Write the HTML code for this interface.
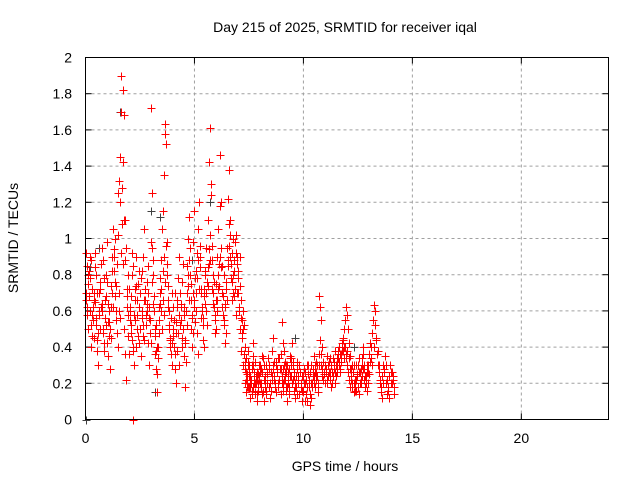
<!DOCTYPE html>
<html><head><meta charset="utf-8"><style>
body{margin:0;background:#fff}
svg text{font-family:"Liberation Sans",sans-serif;font-size:14px;fill:#000}
</style></head><body>
<svg id="chart" width="640" height="480" viewBox="0 0 640 480" xmlns="http://www.w3.org/2000/svg">
<text x="345" y="32" text-anchor="middle">Day 215 of 2025, SRMTID for receiver iqal</text>
<text transform="translate(18,238) rotate(-90)" text-anchor="middle">SRMTID / TECUs</text>
<text x="345" y="471" text-anchor="middle">GPS time / hours</text>
<g id="grid"></g><g id="ticks"></g><g id="dark" shape-rendering="crispEdges"></g><g id="red" shape-rendering="crispEdges"></g>
<rect x="85.5" y="57.5" width="523" height="362" fill="none" stroke="#000" stroke-width="1"/>
</svg>
<script>
const xTicks=[0,5,10,15,20];
const yTicks=[0,0.2,0.4,0.6,0.8,1,1.2,1.4,1.6,1.8,2];
const yTickLabels=["0","0.2","0.4","0.6","0.8","1","1.2","1.4","1.6","1.8","2"];
const sampleStep=0.05;
const segStarts=[0,0.02,2,2.02,4,4.02,6,6.02,8,8.02,10,10.02,12,12.02,0.035,2.035,4.035,6.035,7.3,9.035,11.035];
const seg0=[0.92,0.85,0.75,0.68,0.6,0.88,0.72,0.55,0.45,0.65,0.8,0.7,0.58,0.5,0.62,0.95,0.88,0.78,0.66,0.52,0.42,0.35,0.6,0.74,0.9,1.05,0.82,0.68,0.55,0.48,1.25,1.32,1.45,1.9,1.82,1.68,1.1,0.95,0.72,0.58];
const seg1=[0.7,0.62,0.5,0.82,0.78,0.4,0.58,0.66,0.92,0.52,0.44,0.3,0.7,0.76,0.86,0.6,0.48,0.38,0.8,0.98,0.64,0.54,0.28,0.45,0.7,0.62,0.9,1.0,0.74,0.4,0.6,1.2,1.7,1.08,0.86,0.5,0.36,0.22,0.68,0.8];
const seg2=[0.72,0.6,0.48,0.92,0.85,0.55,0.4,0.66,0.75,0.62,0.5,0.35,0.82,0.9,1.05,0.72,0.6,0.42,0.3,0.55,1.72,0.95,0.8,0.68,0.5,0.38,0.25,0.62,0.78,0.88,1.05,1.15,1.35,1.63,1.52,0.98,0.74,0.6,0.45,0.3];
const seg3=[0.55,0.68,0.8,0.4,0.3,0.72,0.9,0.58,0.46,0.82,0.7,0.6,0.52,0.44,0.66,0.58,0.76,0.85,0.62,0.48,0.98,1.25,0.64,0.36,0.28,0.15,0.4,0.55,0.7,0.6,0.5,0.82,0.9,1.58,0.86,0.66,0.52,0.4,0.56,0.7];
const seg4=[0.5,0.4,0.28,0.2,0.62,0.78,0.9,0.7,0.55,0.45,0.35,0.18,0.6,0.85,1.0,1.12,0.95,0.75,0.58,0.48,0.66,0.82,0.92,1.05,1.2,0.9,0.72,0.6,0.52,0.4,0.8,0.95,1.1,1.42,1.61,1.3,0.88,0.7,0.62,0.55];
const seg5=[0.62,0.55,0.7,0.48,0.38,0.3,0.52,0.64,0.76,0.86,0.58,0.42,0.32,0.7,0.8,0.66,0.5,0.4,0.98,1.15,0.78,0.6,0.48,0.36,0.72,0.84,0.56,0.44,0.68,0.82,0.6,0.52,0.74,0.86,1.02,1.24,0.96,0.8,0.48,0.66];
const seg6=[0.75,0.9,1.05,1.46,1.2,0.85,0.68,0.55,0.42,0.72,0.95,1.22,1.38,1.1,0.92,0.8,0.68,0.98,1.02,0.9,0.78,0.6,0.5,0.38,0.45,0.3,0.2,0.15,0.25,0.32,0.18,0.12,0.22,0.28,0.35,0.2,0.15,0.1,0.25,0.3];
const seg7=[0.6,0.72,0.86,1.18,0.95,0.7,0.58,0.8,0.62,0.48,0.85,1.08,0.9,0.78,0.66,1.0,0.88,0.72,0.58,0.7,0.82,0.9,0.66,0.55,0.5,0.36,0.28,0.22,0.18,0.38,0.26,0.2,0.3,0.42,0.24,0.14,0.2,0.26,0.18,0.22];
const seg8=[0.2,0.28,0.35,0.15,0.1,0.22,0.3,0.25,0.18,0.12,0.26,0.38,0.45,0.32,0.2,0.15,0.28,0.34,0.22,0.14,0.54,0.42,0.38,0.25,0.18,0.1,0.2,0.28,0.35,0.3,0.22,0.16,0.12,0.24,0.32,0.2,0.14,0.26,0.18,0.1];
const seg9=[0.26,0.18,0.14,0.3,0.24,0.16,0.2,0.34,0.28,0.2,0.16,0.22,0.3,0.24,0.32,0.26,0.18,0.22,0.28,0.36,0.24,0.2,0.3,0.32,0.26,0.22,0.14,0.34,0.24,0.2,0.3,0.26,0.2,0.18,0.28,0.24,0.3,0.2,0.24,0.16];
const seg10=[0.15,0.1,0.22,0.3,0.25,0.18,0.08,0.12,0.2,0.28,0.35,0.3,0.22,0.15,0.68,0.62,0.55,0.4,0.32,0.25,0.2,0.28,0.35,0.3,0.22,0.18,0.26,0.34,0.28,0.2,0.24,0.3,0.36,0.32,0.26,0.4,0.45,0.5,0.55,0.62];
const seg11=[0.2,0.26,0.14,0.18,0.3,0.22,0.14,0.2,0.28,0.24,0.18,0.26,0.3,0.2,0.36,0.44,0.3,0.24,0.22,0.3,0.26,0.2,0.24,0.32,0.26,0.3,0.2,0.24,0.3,0.26,0.34,0.38,0.3,0.28,0.36,0.42,0.38,0.34,0.4,0.36];
const seg12=[0.58,0.5,0.42,0.35,0.28,0.2,0.15,0.22,0.3,0.25,0.18,0.14,0.2,0.28,0.34,0.4,0.3,0.22,0.16,0.2,0.25,0.32,0.4,0.48,0.55,0.63,0.6,0.45,0.38,0.3,0.22,0.15,0.12,0.2,0.28,0.35,0.3,0.22,0.16,0.12,0.2,0.26,0.22,0.18];
const seg13=[0.38,0.34,0.28,0.22,0.18,0.26,0.3,0.2,0.16,0.24,0.3,0.26,0.22,0.3,0.36,0.28,0.24,0.2,0.26,0.3,0.36,0.42,0.34,0.3,0.4,0.52,0.44,0.36,0.3,0.26,0.2,0.18,0.24,0.3,0.26,0.2,0.14,0.18,0.24,0.3,0.26,0.2,0.24,0.14];
const seg14=[0.66,0.58,0.8,0.9,0.52,0.46,0.62,0.7,0.84,0.56,0.38,0.48,0.6,0.72,0.64,0.5,0.42,0.56,0.68,0.76,0.54,0.46,0.5,0.62,0.82,0.94,0.76,0.6,0.86,1.02,0.7,0.56,0.92,1.28,1.42,1.1,0.88,0.62,0.46,0.36];
const seg15=[0.62,0.52,0.44,0.38,0.58,0.66,0.74,0.5,0.42,0.7,0.78,0.56,0.46,0.66,0.72,0.52,0.64,0.7,0.56,0.42,0.76,0.88,0.6,0.46,0.52,0.4,0.34,0.48,0.64,0.72,0.66,0.58,0.76,0.96,0.8,0.62,0.5,0.44,0.36,0.42];
const seg16=[0.46,0.36,0.54,0.66,0.48,0.58,0.7,0.62,0.4,0.5,0.62,0.44,0.52,0.74,0.88,0.8,0.66,0.56,0.7,0.62,0.54,0.7,0.78,0.88,0.96,0.7,0.62,0.56,0.72,0.64,0.7,0.76,0.84,0.94,0.88,0.72,0.64,0.76,0.58,0.5];
const seg17=[0.66,0.8,0.74,0.9,0.84,0.62,0.52,0.64,0.76,0.66,0.88,0.96,1.02,0.86,0.76,0.7,0.82,0.92,0.86,0.7,0.62,0.74,0.56,0.48,0.6,0.52,0.4,0.34,0.3,0.24,0.18,0.22,0.16,0.3,0.26,0.2,0.24,0.14,0.2,0.28];
const seg18=[0.32,0.26,0.22,0.18,0.3,0.24,0.2,0.14,0.18,0.26,0.32,0.22,0.16,0.24,0.3,0.2,0.26,0.34,0.22,0.18,0.14,0.26,0.3,0.2,0.16,0.24,0.28,0.22,0.18,0.3,0.26,0.2,0.34,0.28,0.2,0.16,0.22,0.26,0.3,0.18];
const seg19=[0.2,0.28,0.22,0.16,0.3,0.26,0.18,0.24,0.34,0.42,0.32,0.24,0.18,0.14,0.22,0.3,0.26,0.2,0.16,0.24,0.28,0.2,0.14,0.1,0.22,0.26,0.3,0.18,0.24,0.2,0.26,0.32,0.24,0.18,0.3,0.36,0.28,0.22,0.26,0.2];
const seg20=[0.28,0.22,0.3,0.26,0.34,0.3,0.24,0.32,0.38,0.3,0.26,0.34,0.4,0.36,0.32,0.38,0.44,0.4,0.34,0.3,0.26,0.22,0.18,0.24,0.3,0.26,0.2,0.16,0.22,0.3,0.34,0.26,0.2,0.24,0.28,0.22,0.18,0.24,0.3,0.26];
const extraRedHours=[2.2];
const extraRedValues=[0];
const darkHours=[0,0.2,0.6,1.6,3.0,3.2,3.4,4.9,5.7,7.0,9.6,12.3];
const darkValues=[0,0.84,0.95,1.7,1.15,0.15,1.12,0.88,1.2,0.7,0.45,0.4];

const X0=85.5,X1=608.5,Y0=419.5,Y1=57.5;
const sx=h=>X0+h/24*(X1-X0);
const sy=v=>Y0-v/2*(Y0-Y1);
const NS="http://www.w3.org/2000/svg";
const mk=(t,a,p)=>{const e=document.createElementNS(NS,t);for(const k in a)e.setAttribute(k,a[k]);p.appendChild(e);return e;};
const grid=document.getElementById('grid'),ticks=document.getElementById('ticks');
yTicks.forEach((v,i)=>{
  const y=sy(v);
  if(i>0&&i<yTicks.length-1){const g=mk('line',{x1:X0,x2:X1,y1:y,y2:y,stroke:'#a0a0a0','stroke-dasharray':'3,3'},grid);
  
  }
  mk('line',{x1:X0,x2:X0+6,y1:y,y2:y,stroke:'#000'},ticks);
  mk('line',{x1:X1,x2:X1-6,y1:y,y2:y,stroke:'#000'},ticks);
  const t=mk('text',{x:72,y:y+5,'text-anchor':'end'},ticks);t.textContent=yTickLabels[i];
  
  
});
xTicks.forEach(h=>{
  const x=sx(h);
  if(h>0){const g=mk('line',{x1:x,x2:x,y1:Y0,y2:Y1,stroke:'#a0a0a0','stroke-dasharray':'3,3'},grid);
  
  }
  mk('line',{x1:x,x2:x,y1:Y0,y2:Y0-6,stroke:'#000'},ticks);
  mk('line',{x1:x,x2:x,y1:Y1,y2:Y1+6,stroke:'#000'},ticks);
  const t=mk('text',{x:x,y:443,'text-anchor':'middle'},ticks);t.textContent=String(h);
  
  
});
function plus(h,v,col,parent,name){
  const x=Math.round(sx(h))+0.5,y=Math.round(sy(v))+0.5;
  const p=mk('path',{d:`M${x-4} ${y}H${x+4}M${x} ${y-4}V${y+4}`,stroke:col,'stroke-width':1,fill:'none'},parent);
  
  
}
const dark=document.getElementById('dark'),red=document.getElementById('red');
darkHours.forEach((h,i)=>plus(h,darkValues[i],'#404040',dark,'dark-point'));
const segs=[seg0,seg1,seg2,seg3,seg4,seg5,seg6,seg7,seg8,seg9,seg10,seg11,seg12,seg13,seg14,seg15,seg16,seg17,seg18,seg19,seg20];
segs.forEach((s,k)=>s.forEach((v,i)=>plus(segStarts[k]+i*sampleStep,v,'#ff0000',red,'srmtid-point')));
extraRedHours.forEach((h,i)=>plus(h,extraRedValues[i],'#ff0000',red,'srmtid-point'));
</script>
</body></html>
